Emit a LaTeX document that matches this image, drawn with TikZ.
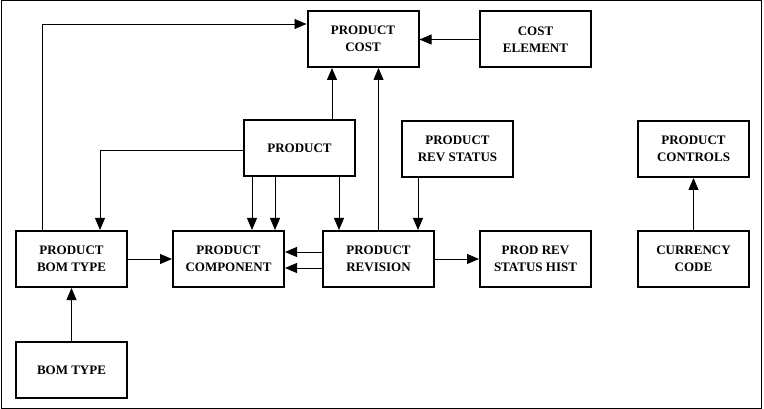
\documentclass[tikz,border=0pt]{standalone}
\usepackage{fontspec}
\setmainfont{Liberation Serif}
\usetikzlibrary{arrows.meta}
\begin{document}
\begin{tikzpicture}[x=1pt,y=-1pt,
  box/.style={draw,line width=2pt,minimum width=111pt,minimum height=56pt,
    align=center,inner sep=0pt,font=\fontsize{13}{17}\selectfont\bfseries},
  arr/.style={line width=0.8pt,-{Triangle[length=12pt,width=10pt]}},
  conn/.style={line width=0.8pt}]
\useasboundingbox (0,0) rectangle (764,409);
\draw[line width=1pt] (1,1) rectangle (761,408);
% nodes
\node[box] (pcost) at (363,39) {PRODUCT\\COST};
\node[box] (costel) at (535.5,39.5) {COST\\ELEMENT};
\node[box] (prod) at (299.5,148.5) {PRODUCT};
\node[box] (prevstat) at (457.5,149) {PRODUCT\\REV STATUS};
\node[box] (pctrl) at (693.5,149) {PRODUCT\\CONTROLS};
\node[box] (pbom) at (71.5,259) {PRODUCT\\BOM TYPE};
\node[box] (pcomp) at (228.5,259) {PRODUCT\\COMPONENT};
\node[box] (prev) at (378.5,259) {PRODUCT\\REVISION};
\node[box] (hist) at (535.5,259) {PROD REV\\STATUS HIST};
\node[box] (curr) at (693.5,259) {CURRENCY\\CODE};
\node[box] (bom) at (71.5,370) {BOM TYPE};
% helper coordinates
\coordinate (c332) at (332,0);
\coordinate (c42) at (42,24);
\coordinate (c100) at (100,150);
\coordinate (c252) at (252,0);
\coordinate (c275) at (275,0);
\coordinate (c339) at (339,0);
\coordinate (c418) at (418,0);
\coordinate (y252) at (0,252);
\coordinate (y268) at (0,268);
% connectors
\draw[arr] (prod.north -| c332) -- (pcost.south -| c332);
\draw[arr] (prev.north) -- (prev.north |- pcost.south);
\draw[arr] (costel.west) -- (costel.west -| pcost.east);
\draw[arr] (pbom.north -| c42) -- (c42) -- (c42 -| pcost.west);
\draw[arr] (prod.west |- c100) -| (pbom.north -| c100);
\draw[arr] (prod.south -| c252) -- (pcomp.north -| c252);
\draw[arr] (prod.south -| c275) -- (pcomp.north -| c275);
\draw[arr] (prod.south -| c339) -- (prev.north -| c339);
\draw[arr] (prevstat.south -| c418) -- (prev.north -| c418);
\draw[arr] (pbom.east) -- (pcomp.west);
\draw[arr] (prev.west |- y252) -- (pcomp.east |- y252);
\draw[arr] (prev.west |- y268) -- (pcomp.east |- y268);
\draw[arr] (prev.east) -- (hist.west);
\draw[arr] (curr.north) -- (pctrl.south);
\draw[arr] (bom.north) -- (pbom.south);
\end{tikzpicture}
\end{document}
